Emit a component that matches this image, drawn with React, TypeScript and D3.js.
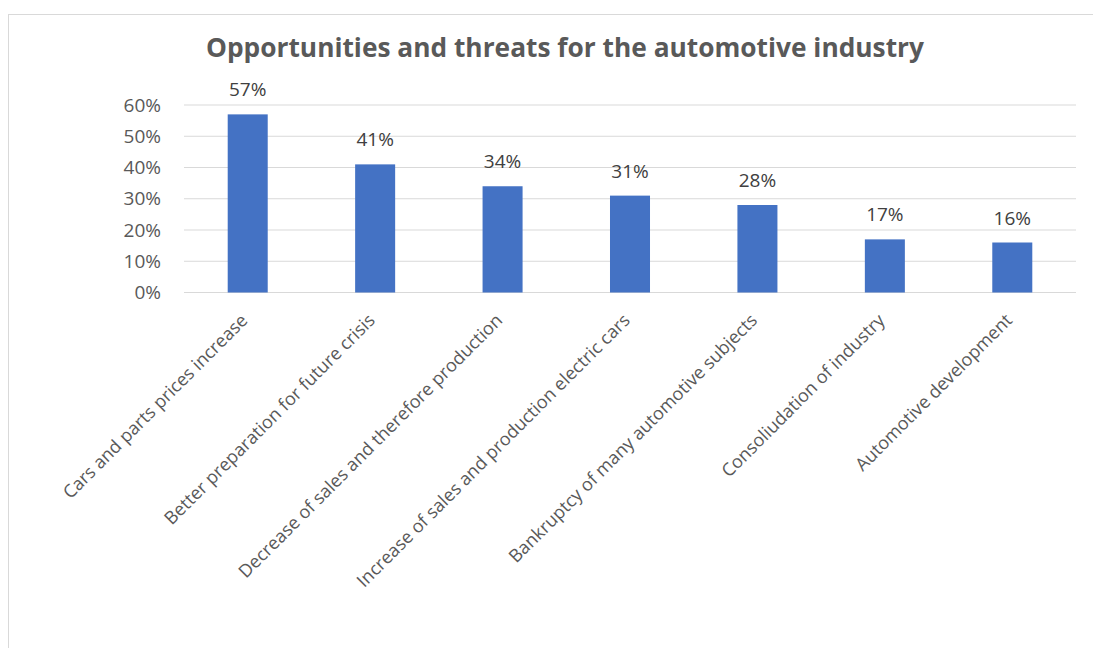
import React from "react";
import * as d3 from "d3";

const categories = [
  "Cars and parts prices increase",
  "Better preparation for future crisis",
  "Decrease of sales and therefore production",
  "Increase of sales and production electric cars",
  "Bankruptcy of many automotive subjects",
  "Consoliudation of industry",
  "Automotive development",
];
const values = [0.57, 0.41, 0.34, 0.31, 0.28, 0.17, 0.16];
const yTicks = [0, 0.1, 0.2, 0.3, 0.4, 0.5, 0.6];
const title = "Opportunities and threats for the automotive industry";

const W = 1093;
const H = 648;
const plot = { left: 184, right: 1076, top: 105, bottom: 292.5 };
const font = "'Open Sans', sans-serif";

export default function App() {
  const x = d3
    .scaleBand<string>()
    .domain(categories)
    .range([plot.left, plot.right])
    .paddingInner(0.686)
    .paddingOuter(0.343);
  const y = d3.scaleLinear().domain([0, 0.6]).range([plot.bottom, plot.top]);
  const fmt = d3.format(".0%");

  return (
    <svg
      width={W}
      height={H}
      style={{ position: "absolute", left: 0, top: 0, background: "#fff" }}
      fontFamily={font}
    >
      <rect x={8.5} y={14.5} width={W + 10} height={H + 10} fill="#fff" stroke="#d9d9d9" strokeWidth={1} />
      <text x={565} y={57} textAnchor="middle" fontSize={26.3} fontWeight="bold" fill="#595959">
        {title}
      </text>
      {yTicks.map((t) => (
        <g key={t}>
          <line x1={plot.left} x2={plot.right} y1={y(t)} y2={y(t)} stroke="#d9d9d9" strokeWidth={1.2} />
          <text x={161} y={y(t)} dy="0.35em" textAnchor="end" fontSize={19} fill="#595959">
            {fmt(t)}
          </text>
        </g>
      ))}
      {categories.map((c, i) => {
        const bx = x(c)!;
        const cx = bx + x.bandwidth() / 2;
        return (
          <g key={c}>
            <rect x={bx} y={y(values[i])} width={x.bandwidth()} height={y(0) - y(values[i])} fill="#4472c4" />
            <text x={cx} y={y(values[i]) - 18} textAnchor="middle" fontSize={19} fill="#404040">
              {fmt(values[i])}
            </text>
            <text
              transform={`translate(${cx + 1},${plot.bottom + 29}) rotate(-45)`}
              textAnchor="end"
              fontSize={18}
              fill="#595959"
            >
              {c}
            </text>
          </g>
        );
      })}
    </svg>
  );
}
